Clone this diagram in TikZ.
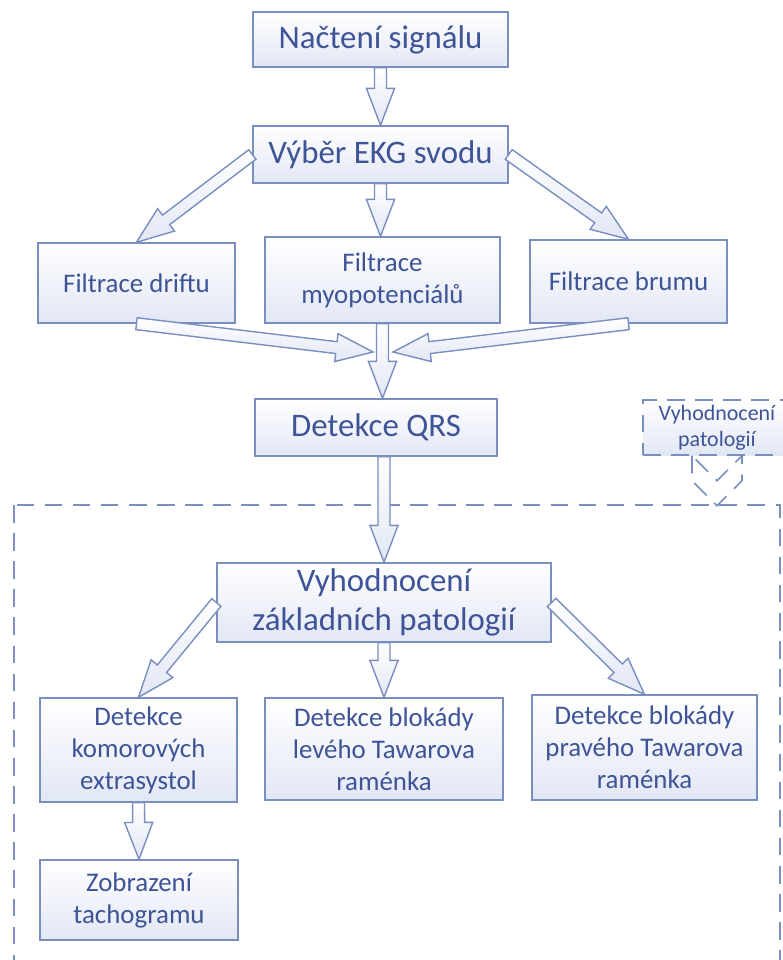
\documentclass[tikz,border=0pt]{standalone}
\usepackage{fontspec}
\setmainfont{Carlito}
\usetikzlibrary{calc}

\definecolor{boxline}{RGB}{122,142,192}
\definecolor{boxtext}{RGB}{62,84,150}
\definecolor{boxfill}{RGB}{226,231,245}

\newcommand\hollowarrow[2]{%
  \draw[arrowbody] let \p1=($(#2)-(#1)$), \n1={atan2(\y1,\x1)}, \n2={veclen(\x1,\y1)} in
    ($(#1)+({\n1+90}:3.4pt)$) -- ($(#1)+({\n1}:{\n2-21pt})+({\n1+90}:3.4pt)$)
    -- ($(#1)+({\n1}:{\n2-21pt})+({\n1+90}:8pt)$) -- (#2)
    -- ($(#1)+({\n1}:{\n2-21pt})+({\n1-90}:8pt)$)
    -- ($(#1)+({\n1}:{\n2-21pt})+({\n1-90}:3.4pt)$)
    -- ($(#1)+({\n1-90}:3.4pt)$) -- cycle;}

\begin{document}
\begin{tikzpicture}[x=0.02cm, y=-0.02cm,
  stepbox/.style={draw=boxline, line width=0.8pt, top color=white, bottom color=boxfill,
    text=boxtext, align=center, inner sep=0pt},
  bigtext/.style={font=\fontsize{18.7}{22.4}\selectfont},
  midtext/.style={font=\fontsize{15.3}{18.2}\selectfont},
  smalltext/.style={font=\fontsize{12.5}{15}\selectfont},
  arrowbody/.style={draw=boxline, line width=0.8pt, top color=white, bottom color=boxfill},
  dashbox/.style={draw=boxline, line width=0.9pt, dash pattern=on 10pt off 6pt}]
\useasboundingbox (0,0) rectangle (783,960);

\draw[dashbox] (14,505) rectangle (780,1000);

\node[stepbox, bigtext, minimum width=5.10cm, minimum height=1.10cm] (nacteni) at (380.5,39.5) {Načtení signálu};
\node[stepbox, bigtext, minimum width=5.10cm, minimum height=1.14cm] (vyber) at (380.5,154.5) {Výběr EKG svodu};
\node[stepbox, midtext, minimum width=3.94cm, minimum height=1.60cm] (drift) at (136.5,283) {Filtrace driftu};
\node[stepbox, midtext, minimum width=4.70cm, minimum height=1.72cm] (myo) at (382.5,280) {Filtrace\\myopotenciálů};
\node[stepbox, midtext, minimum width=3.94cm, minimum height=1.66cm] (brum) at (628.5,281.5) {Filtrace brumu};
\node[stepbox, bigtext, minimum width=4.84cm, minimum height=1.14cm] (qrs) at (376,427.5) {Detekce QRS};
\node[stepbox, smalltext, dashbox, minimum width=2.96cm, minimum height=1.10cm] (patol) at (717,427.5) {Vyhodnocení\\patologií};
\node[stepbox, bigtext, minimum width=6.68cm, minimum height=1.58cm] (zakl) at (384,602.5) {Vyhodnocení\\základních patologií};
\node[stepbox, midtext, minimum width=3.94cm, minimum height=2.08cm] (komor) at (138.5,750) {Detekce\\komorových\\extrasystol};
\node[stepbox, midtext, minimum width=4.76cm, minimum height=2.04cm] (levy) at (384,749) {Detekce blokády\\levého Tawarova\\raménka};
\node[stepbox, midtext, minimum width=4.50cm, minimum height=2.10cm] (pravy) at (644.5,747.5) {Detekce blokády\\pravého Tawarova\\raménka};
\node[stepbox, midtext, minimum width=3.96cm, minimum height=1.60cm] (tacho) at (139,900) {Zobrazení\\tachogramu};

\coordinate (mergeL) at (373,352);
\coordinate (mergeR) at (393,352);

\hollowarrow{nacteni.south}{vyber.north}
\hollowarrow{vyber.west}{drift.north}
\hollowarrow{vyber.south}{vyber.south |- myo.north}
\hollowarrow{vyber.east}{brum.north}
\hollowarrow{drift.south}{mergeL}
\hollowarrow{brum.south}{mergeR}
\hollowarrow{myo.south}{myo.south |- qrs.north}
\hollowarrow{zakl.north |- qrs.south}{zakl.north}
\hollowarrow{zakl.west}{komor.north}
\hollowarrow{zakl.south}{levy.north}
\hollowarrow{zakl.east}{pravy.north}
\hollowarrow{komor.south}{tacho.north}

\draw[dashbox, fill=white] (patol.south) ++(-25,0) -- ++(0,25) -- ++(25,25) -- ++(25,-25)
  -- ++(0,-25) -- ++(-25,25) -- cycle;
\end{tikzpicture}
\end{document}
